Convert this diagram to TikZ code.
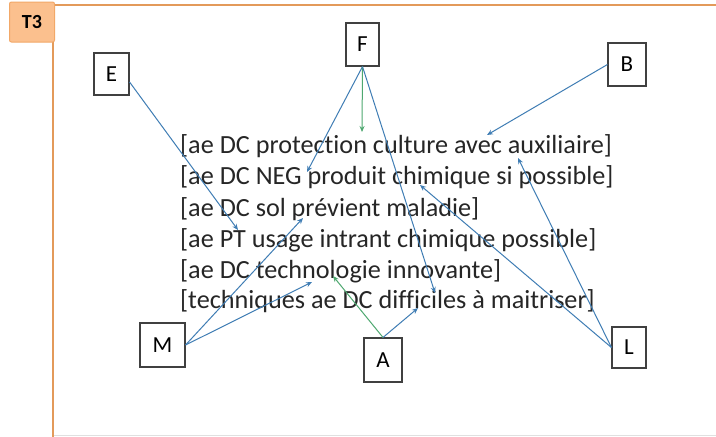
\documentclass[tikz,border=0pt]{standalone}
\usepackage{fontspec}
\setmainfont{Carlito}[Ligatures={NoCommon}]
\usetikzlibrary{arrows.meta,calc}
\definecolor{frameorange}{HTML}{E39A5A}
\definecolor{tagfill}{HTML}{FBC08E}
\definecolor{tagdraw}{HTML}{F2A868}
\definecolor{arrblue}{HTML}{3F7DB4}
\definecolor{arrgreen}{HTML}{4EA870}
\definecolor{boxgray}{HTML}{404040}
\tikzset{
  letterbox/.style={draw=boxgray, line width=1.1pt, fill=white, inner sep=0pt,
    minimum width=36pt, minimum height=43pt, font=\fontsize{23}{23}\selectfont},
  stmt/.style={anchor=west, inner sep=0pt, text=black!85, font=\fontsize{26.2}{30}\selectfont},
  barrow/.style={draw=arrblue, line width=1pt, -{Stealth[length=6pt,width=5pt]}},
  garrow/.style={draw=arrgreen, line width=1pt, -{Stealth[length=6pt,width=5pt]}},
}
\begin{document}
\begin{tikzpicture}[x=1pt,y=-1pt]
\useasboundingbox (0,0) rectangle (716,437);
\fill[white] (0,0) rectangle (716,437);
% frame
\draw[black!12, line width=1pt] (53,435) -- (716,435);
\draw[frameorange, line width=2pt] (53,437) -- (53,5) -- (716,5);
% tag
\node[draw=tagdraw, fill=tagfill, rounded corners=2pt, line width=1pt,
  minimum width=45pt, minimum height=40pt, inner sep=0pt,
  font=\fontsize{20}{20}\selectfont\bfseries] (T3) at (32,22) {T3};
% statements
\node[stmt] (s1) at (180,146) {[ae DC protection culture avec auxiliaire]};
\node[stmt] (s2) at (180,177) {[ae DC NEG produit chimique si possible]};
\node[stmt] (s3) at (180,209) {[ae DC sol prévient maladie]};
\node[stmt] (s4) at (180,240) {[ae PT usage intrant chimique possible]};
\node[stmt] (s5) at (180,271) {[ae DC technologie innovante]};
\node[stmt] (s6) at (180,301) {[techniques ae DC difficiles à maitriser]};
% letter boxes
\node[letterbox, minimum width=35pt, minimum height=42pt] (E) at (111.5,74) {E};
\node[letterbox, minimum width=33pt, minimum height=43pt] (F) at (362.5,44.5) {F};
\node[letterbox, minimum width=38pt, minimum height=43pt] (B) at (627,64.5) {B};
\node[letterbox, minimum width=45pt, minimum height=44pt] (M) at (162.5,345) {M};
\node[letterbox, minimum width=38pt, minimum height=44pt] (A) at (383,360) {A};
\node[letterbox, minimum width=34pt, minimum height=41pt] (L) at (629,347.5) {L};
% arrow targets
\coordinate (tE) at (238,230);
\coordinate (tF1) at (307,172);
\coordinate (tF2) at (362,132);
\coordinate (tF3) at (435,293);
\coordinate (tB) at (487,135);
\coordinate (tL1) at (518,158);
\coordinate (tL2) at (420,185);
\coordinate (tM1) at (303,218);
\coordinate (tM2) at (312,282);
\coordinate (tA1) at (333,276);
\coordinate (tA2) at (418,308);
% arrows
\draw[barrow] ($(E.east)+(0,8)$) -- (tE);
\draw[barrow] (F.south) -- (tF1);
\draw[garrow] (F.south) -- (tF2);
\draw[barrow] (F.south) -- (tF3);
\draw[barrow] (B.west) -- (tB);
\draw[barrow] (L.west) -- (tL1);
\draw[barrow] (L.west) -- (tL2);
\draw[barrow] (M.east) -- (tM1);
\draw[barrow] (M.east) -- (tM2);
\draw[garrow] (A.north) -- (tA1);
\draw[barrow] (A.north) -- (tA2);
\end{tikzpicture}
\end{document}
